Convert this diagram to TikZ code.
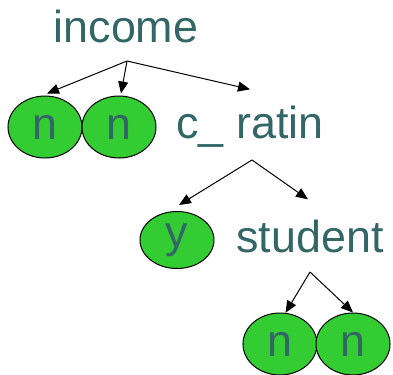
\documentclass[tikz,border=0pt]{standalone}
\usepackage{fontspec}
\setmainfont{Liberation Sans}
\usetikzlibrary{arrows.meta,shapes.geometric}

\begin{document}
\begin{tikzpicture}[x=1bp, y=-1bp, every node/.style={font=\fontsize{45}{50}\selectfont}] % one unit is one pixel of the picture
        % Define the colors
        \definecolor{leafgreen}{HTML}{33CC33}
        \definecolor{attrtext}{HTML}{336666}
        \tikzset{
            attr/.style={text=attrtext, inner sep=0pt, anchor=base},
            leaf/.style={ellipse, draw=black, line width=1bp, fill=leafgreen, text=attrtext,
                         minimum width=74bp, minimum height=62bp, inner sep=0pt},
            branch/.style={-{Triangle[length=12bp,width=10bp]}, line width=1bp}
        }
        \useasboundingbox (0,0) rectangle (393,375);

        % Draw the attribute labels
        \node[attr] (Income) at (126,42) {income};
        \node[attr] (CRatin) at (250,138) {c\_ ratin};
        \node[attr] (Student) at (310,252) {student};

        % Draw the green leaves
        \node[leaf] (LeafN1) at (45,127) {n};
        \node[leaf] (LeafN2) at (119,127) {n};
        \node[leaf, minimum height=57bp] (LeafY) at (177,240) {y};
        \node[leaf] (LeafN3) at (280,344) {n};
        \node[leaf] (LeafN4) at (353,344) {n};

        % Fork points under each label
        \coordinate (IncFork) at (127,61);
        \coordinate (RatFork) at (252,160);
        \coordinate (StuFork) at (310,272);

        % Draw the arrows from income
        \draw[branch] (IncFork) -- ([xshift=2bp,yshift=2bp]LeafN1.north);
        \draw[branch] (IncFork) -- ([xshift=2bp,yshift=2bp]LeafN2.north);
        \draw[branch] (IncFork) -- ([yshift=16bp]CRatin.north);

        % Draw the arrows from c_ ratin
        \draw[branch] (RatFork) -- ([xshift=2bp,yshift=6bp]LeafY.north);
        \draw[branch] (RatFork) -- ([xshift=-2bp,yshift=20bp]Student.north);

        % Draw the arrows from student
        \draw[branch] (StuFork) -- (LeafN3.80);
        \draw[branch] (StuFork) -- (LeafN4.north);

    \end{tikzpicture}
\end{document}
